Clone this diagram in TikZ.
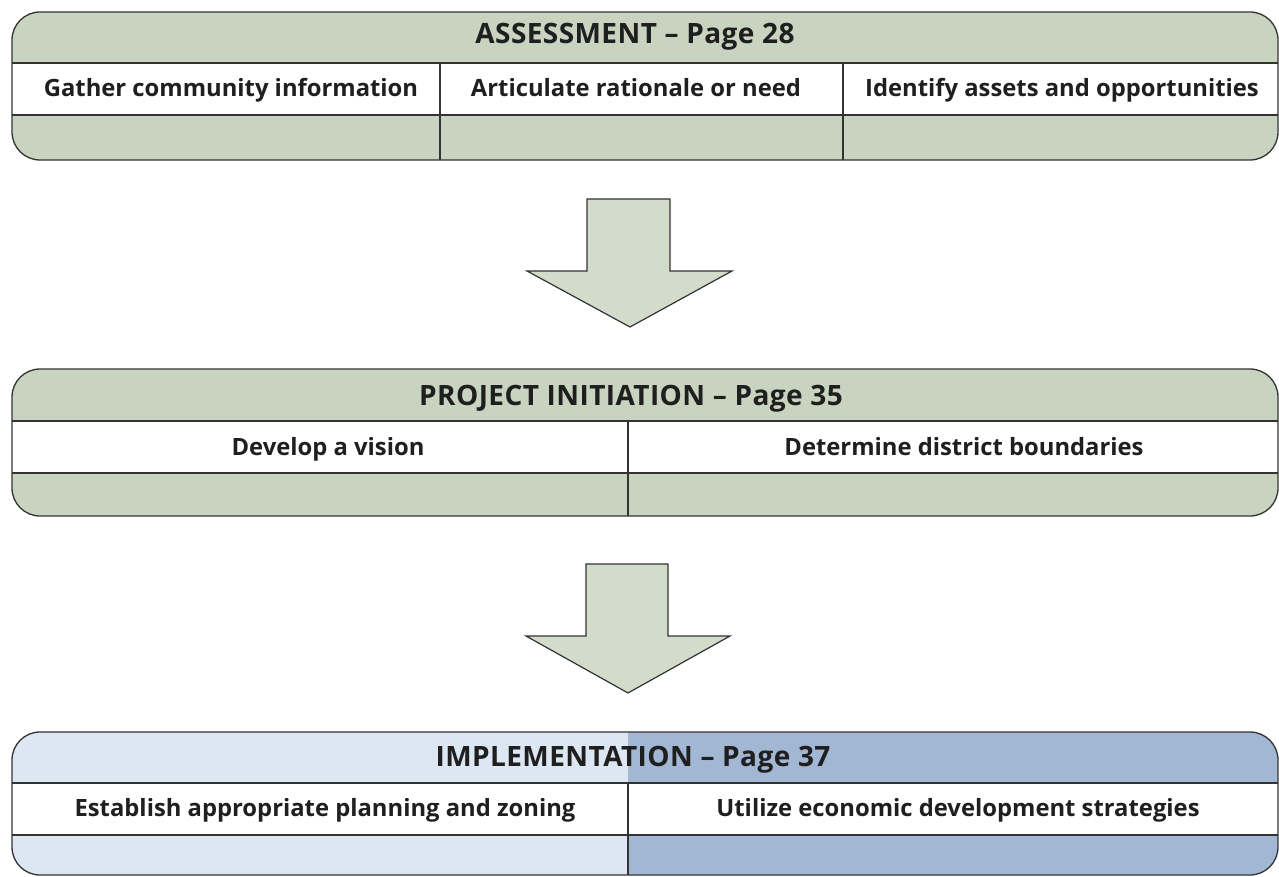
\documentclass[tikz,border=0pt]{standalone}
\usepackage{fontspec}
\setmainfont{Open Sans}
\definecolor{sage}{RGB}{200,212,191}
\definecolor{arrowsage}{RGB}{211,219,203}
\definecolor{paleblue}{RGB}{221,230,243}
\definecolor{steelblue}{RGB}{162,183,212}
\tikzstyle{outline}=[draw=black!80,line width=1.3pt]
\tikzstyle{celltext}=[font=\bfseries\fontsize{23.8}{28}\selectfont,text=black!88,inner sep=0pt,anchor=base]
\tikzstyle{headtext}=[celltext,font=\bfseries\fontsize{28}{32}\selectfont\addfontfeature{LetterSpace=1.5}]
\tikzstyle{bigarrow}=[fill=arrowsage,draw=black!80,line width=1.2pt]

\begin{document}
\begin{tikzpicture}[x=1pt,y=-1pt]
  \useasboundingbox (0,0) rectangle (1279,877);

  % assessment
  \fill[sage,rounded corners=28pt] (12,12) rectangle (1278,160);
  \fill[white] (12,63) rectangle (1278,115);
  \draw[outline] (12,63) -- (1278,63) (12,115) -- (1278,115)
    (440,63) -- (440,160) (843,63) -- (843,160);
  \draw[outline,rounded corners=28pt] (12,12) rectangle (1278,160);

  \node[headtext] (assess) at (635,44) {ASSESSMENT \textendash\ Page 28};
  \node[celltext] (gather) at (231,97) {Gather community information};
  \node[celltext] (rationale) at (636,97) {Articulate rationale or need};
  \node[celltext] (assets) at (1062,97) {Identify assets and opportunities};

  \draw[bigarrow] (587,199) -- ++(83,0) -- ++(0,72) -- ++(62,0)
    -- (630,327) -- (527,271) -- ++(60,0) -- cycle;

  % project initiation
  \fill[sage,rounded corners=28pt] (12,369) rectangle (1278,516);
  \fill[white] (12,421) rectangle (1278,473);
  \draw[outline] (12,421) -- (1278,421) (12,473) -- (1278,473)
    (628,421) -- (628,516);
  \draw[outline,rounded corners=28pt] (12,369) rectangle (1278,516);

  \node[headtext] (init) at (631,405) {PROJECT INITIATION \textendash\ Page 35};
  \node[celltext] (vision) at (328,455) {Develop a vision};
  \node[celltext] (bounds) at (964,455) {Determine district boundaries};

  \draw[bigarrow] (586,564) -- ++(82,0) -- ++(0,72) -- ++(62,0)
    -- (628,693) -- (526,636) -- ++(60,0) -- cycle;

  % implementation
  \begin{scope}
    \clip[rounded corners=28pt] (12,732) rectangle (1278,875);
    \fill[paleblue] (12,732) rectangle (628,875);
    \fill[steelblue] (628,732) rectangle (1278,875);
  \end{scope}
  \fill[white] (12,783) rectangle (1278,835);
  \draw[outline] (12,783) -- (1278,783) (12,835) -- (1278,835)
    (628,783) -- (628,875);
  \draw[outline,rounded corners=28pt] (12,732) rectangle (1278,875);

  \node[headtext] (impl) at (633,766) {IMPLEMENTATION \textendash\ Page 37};
  \node[celltext] (zoning) at (325,816) {Establish appropriate planning and zoning};
  \node[celltext] (strategy) at (958,816) {Utilize economic development strategies};
\end{tikzpicture}
\end{document}
